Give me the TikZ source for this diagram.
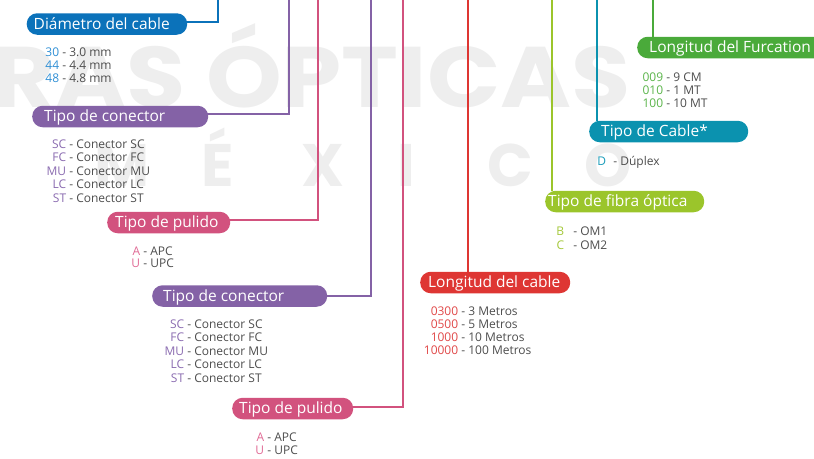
\documentclass[tikz,border=0pt]{standalone}
\usepackage{fontspec}
\setmainfont{Open Sans}
\newfontfamily\wmfont{Poppins}
\usetikzlibrary{backgrounds}
\definecolor{cBlue}{HTML}{0B72BA}
\definecolor{cBlueL}{HTML}{2F8FD5}
\definecolor{cPur}{HTML}{8462A6}
\definecolor{cPurL}{HTML}{8A6BB0}
\definecolor{cPink}{HTML}{D2527E}
\definecolor{cPinkL}{HTML}{E06A95}
\definecolor{cRed}{HTML}{DE3633}
\definecolor{cRedL}{HTML}{E04848}
\definecolor{cLime}{HTML}{9BC52B}
\definecolor{cLimeL}{HTML}{A4C83A}
\definecolor{cTeal}{HTML}{0B92AF}
\definecolor{cTealL}{HTML}{1A9CBA}
\definecolor{cGreen}{HTML}{4AAA3A}
\definecolor{cGreenL}{HTML}{5AB44A}
\definecolor{txtgray}{HTML}{4D4D4D}
\definecolor{wmgray}{HTML}{EEEEEE}
\newcommand{\pillbox}[8]{% name, color, left, yc, width, lpad, textwidth, text
  \node[pill, fill=#2, minimum width=#5pt, inner xsep=#6pt] (#1) at (#3,#4) {\makebox[#7pt][l]{#8}};}
\newcommand{\codelist}[7]{% name, color, x, y0, dy, gap, list
  \foreach \c/\d [count=\i] in {#7} {
    \node[listtxt] (#1-\i) at (#3, {#4+(\i-1)*#5}) {\llap{\textcolor{#2}{\c}\hspace{#6pt}} - \d};
  }}
\begin{document}
\begin{tikzpicture}[x=1pt,y=-1pt,
  pill/.style={rounded corners=10.5pt, minimum height=21.5pt, text height=12.4pt,
    text depth=2.2pt, inner ysep=0pt, anchor=west, text=white,
    font=\fontsize{15.5}{16}\selectfont},
  listtxt/.style={anchor=base west, inner sep=0pt, text=txtgray,
    font=\fontsize{12}{13}\selectfont},
  conn/.style={line width=2pt},
  wm/.style={inner sep=0pt, text=wmgray, font=\wmfont\bfseries\fontsize{86}{86}\selectfont},
  wmb/.style={inner sep=0pt, text=wmgray, font=\wmfont\bfseries\fontsize{60}{60}\selectfont}]
\useasboundingbox (0,0) rectangle (814,458);
\clip (0,0) rectangle (814,458);

% boxes
\pillbox{diam}{cBlue}{26.5}{24}{160.5}{7}{146.5}{Diámetro del cable}
\pillbox{con1}{cPur}{32}{116.5}{176}{12}{152}{Tipo de conector}
\pillbox{pul1}{cPink}{107}{222.5}{123}{8}{107}{Tipo de pulido}
\pillbox{con2}{cPur}{152}{296}{175}{11}{153}{Tipo de conector}
\pillbox{pul2}{cPink}{232}{408.5}{121}{7}{107}{Tipo de pulido}
\pillbox{red}{cRed}{420}{282.5}{150}{8}{134}{Longitud del cable}
\pillbox{furc}{cGreen}{637}{47.5}{263}{12}{239}{Longitud del Furcation}
\pillbox{teal}{cTeal}{589}{131.5}{159}{12}{135}{Tipo de Cable*}
\pillbox{lime}{cLime}{545}{201.5}{159}{3}{153}{Tipo de fibra óptica}

% lists
\codelist{dl}{cBlueL}{59}{56.3}{13.3}{0}{30/3.0 mm, 44/4.4 mm, 48/4.8 mm}
\codelist{cla}{cPurL}{66}{148.3}{13.5}{0}{SC/Conector SC, FC/Conector FC, MU/Conector MU, LC/Conector LC, ST/Conector ST}
\codelist{pla}{cPinkL}{140}{255}{12.7}{0}{A/APC, U/UPC}
\codelist{clb}{cPurL}{184}{328}{13.5}{0}{SC/Conector SC, FC/Conector FC, MU/Conector MU, LC/Conector LC, ST/Conector ST}
\codelist{plb}{cPinkL}{264}{441}{13}{0}{A/APC, U/UPC}
\codelist{rl}{cRedL}{458}{315}{13.1}{0}{0300/3 Metros, 0500/5 Metros, 1000/10 Metros, 10000/100 Metros}
\codelist{fl}{cGreenL}{663}{81.7}{12.8}{0}{009/9 CM, 010/1 MT, 100/10 MT}
\codelist{tl}{cTealL}{610}{165}{0}{4}{D/Dúplex}
\codelist{bl}{cLimeL}{570}{235.7}{13.6}{6}{B/OM1, C/OM2}

% top coordinates
\coordinate (tBlue) at (218,-2);
\coordinate (tPurA) at (289,-2);
\coordinate (tPinkA) at (318,-2);
\coordinate (tPurB) at (371,-2);
\coordinate (tPinkB) at (403,-2);
\coordinate (tRed) at (468,-2);
\coordinate (tLime) at (552,-2);
\coordinate (tTeal) at (597,-2);
\coordinate (tGreen) at (653,-2);

\begin{scope}[on background layer]
  % watermark
  \node[wm, anchor=base east] (wm1) at (631,107) {\scalebox{1.12}[1]{RAS ÓPTICAS}};
  \foreach \l/\x [count=\k] in {M/122, É/218, X/323, I/406, C/510, O/608}
    \node[wmb, anchor=base] (wm2-\k) at (\x,186) {\l};
  % connectors
  \draw[conn, cBlue] ([xshift=-4pt,yshift=2.5pt]diam.east) -| (tBlue);
  \draw[conn, cPur] ([xshift=-4pt,yshift=2.5pt]con1.east) -| (tPurA);
  \draw[conn, cPink] ([xshift=-4pt,yshift=2.5pt]pul1.east) -| (tPinkA);
  \draw[conn, cPur] ([xshift=-4pt]con2.east) -| (tPurB);
  \draw[conn, cPink] ([xshift=-4pt,yshift=2pt]pul2.east) -| (tPinkB);
  \draw[conn, cRed] (red.north -| tRed) -- (tRed);
  \draw[conn, cLime] (lime.north -| tLime) -- (tLime);
  \draw[conn, cTeal] (teal.north -| tTeal) -- (tTeal);
  \draw[conn, cGreen] (furc.north -| tGreen) -- (tGreen);
\end{scope}
\end{tikzpicture}
\end{document}
